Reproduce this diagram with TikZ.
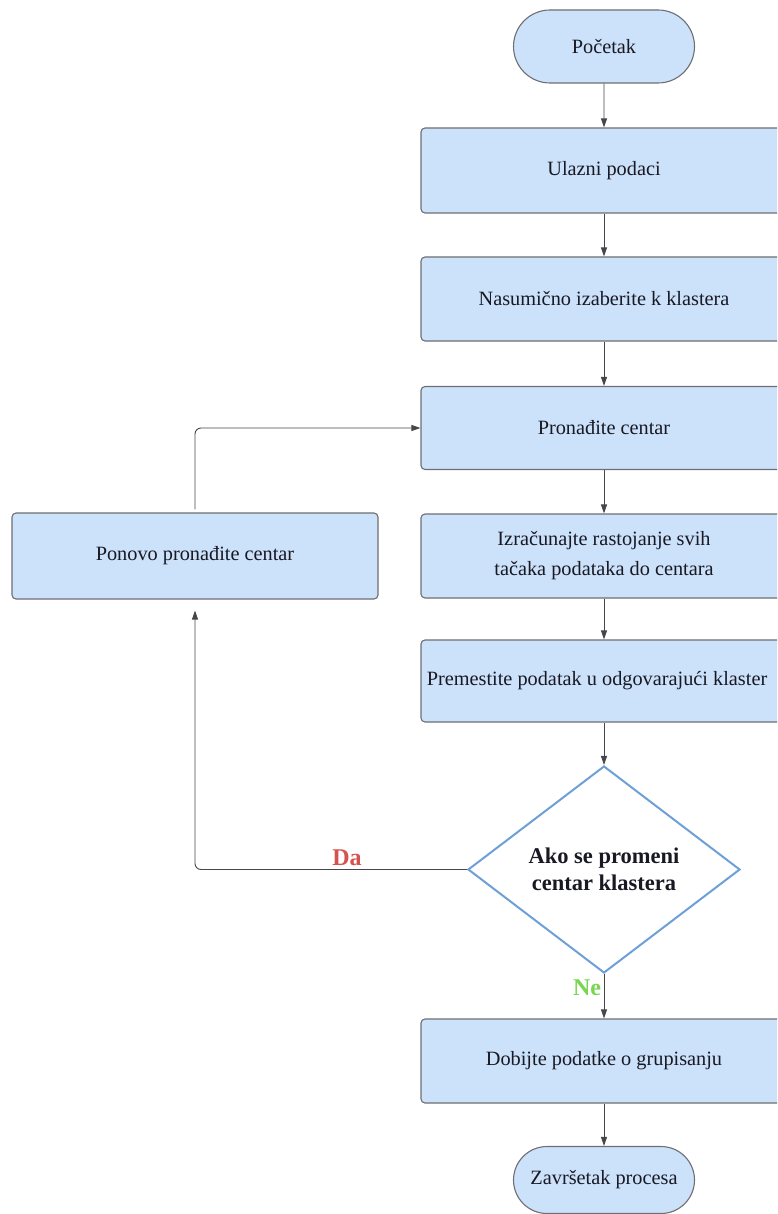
\documentclass[tikz,border=0pt]{standalone}
\usepackage{fontspec}
\setmainfont{LiberationSerif}[Extension=.ttf, UprightFont=*-Regular, BoldFont=*-Bold]
\usetikzlibrary{shapes.misc,shapes.geometric,arrows.meta}

\definecolor{boxfill}{RGB}{204,225,250}
\definecolor{boxline}{RGB}{110,110,115}
\definecolor{decline}{RGB}{110,160,215}
\definecolor{linkline}{RGB}{70,70,75}
\definecolor{yescol}{RGB}{214,82,78}
\definecolor{nocol}{RGB}{120,214,80}
\definecolor{txt}{RGB}{25,25,35}

\tikzset{
  base/.style={draw=boxline, line width=1.1pt, fill=boxfill, text=txt,
    font=\fontsize{20.3}{30}\selectfont, align=center, inner sep=0pt},
  procbox/.style={base, rectangle, rounded corners=4pt,
    minimum width=366pt, minimum height=84pt},
  termbox/.style={base, rounded rectangle, minimum width=181pt},
  decbox/.style={diamond, draw=decline, line width=2pt, fill=white, text=txt,
    font=\bfseries\fontsize{22.5}{27}\selectfont, align=center, inner sep=0pt,
    minimum width=272pt, minimum height=207pt, shape aspect=1.314},
  link/.style={draw=linkline, line width=0.9pt,
    -{Triangle[length=9pt,width=6pt]}},
  tag/.style={font=\bfseries\fontsize{24}{26}\selectfont}
}

\begin{document}
\begin{tikzpicture}[x=1pt,y=-1pt]
  \useasboundingbox (0,0) rectangle (777,1214);
  \clip (0,0) rectangle (777,1214);

  % main column
  \node[termbox, minimum height=73pt] (start) at (604,46.5) {Početak};
  \node[procbox, minimum height=85pt] (input) at (604,170.5) {Ulazni podaci};
  \node[procbox] (pick) at (604,299) {Nasumično izaberite k klastera};
  \node[procbox, minimum height=83pt] (center) at (604,428) {Pronađite centar};
  \node[procbox] (dist) at (604,556)
    {Izračunajte rastojanje svih\\tačaka podataka do centara};
  \node[procbox, minimum height=82pt] (move) at (604,681)
    {\hspace*{-14pt}Premestite podatak u odgovarajući klaster};
  \node[decbox] (check) at (604,869.5) {Ako se promeni\\centar klastera};
  \node[procbox] (result) at (604,1061) {Dobijte podatke o grupisanju};
  \node[termbox, minimum height=67pt] (finish) at (604,1180) {Završetak procesa};

  % side box of the loop
  \node[procbox, minimum height=86pt] (again) at (195,556) {Ponovo pronađite centar};

  % forward links
  \draw[link] (start) -- (input);
  \draw[link] (input) -- (pick);
  \draw[link] (pick) -- (center);
  \draw[link] (center) -- (dist);
  \draw[link] (dist) -- (move);
  \draw[link] (move) -- (check);
  \draw[link] (check) -- (result);
  \draw[link] (result) -- (finish);

  % loop back
  \draw[link, rounded corners=6pt, shorten >=11pt] (check.west) -| (again.south);
  \draw[link, rounded corners=6pt, shorten <=3pt] (again.north) |- (center.west);

  % branch labels
  \node[tag, text=yescol] (yes) at (347,858) {Da};
  \node[tag, text=nocol] (no) at (587,988) {Ne};
\end{tikzpicture}
\end{document}
